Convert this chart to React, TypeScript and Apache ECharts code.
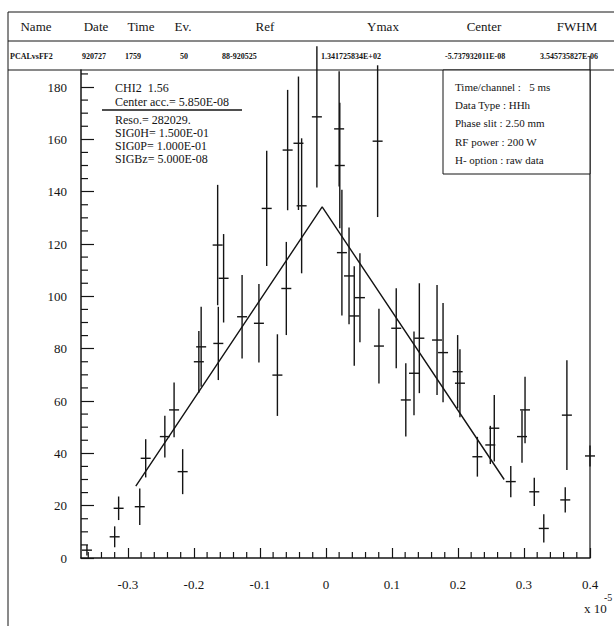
import React, { useEffect, useRef } from "react";
import * as echarts from "echarts";

// ---- data (x in units of 1e-5) ----
const xValues = [
  -0.362, -0.320, -0.314, -0.282, -0.273, -0.244, -0.230, -0.217, -0.1925, -0.189,
  -0.164, -0.163, -0.155, -0.127, -0.1015, -0.0897, -0.0735, -0.060, -0.058, -0.0416,
  -0.0368, -0.0137, 0.020, 0.021, 0.0242, 0.035, 0.0429, 0.0515, 0.0783, 0.0803,
  0.1065, 0.121, 0.1334, 0.1415, 0.1683, 0.1774, 0.1995, 0.203, 0.2294, 0.249,
  0.255, 0.280, 0.297, 0.3016, 0.3156, 0.330, 0.3625, 0.365, 0.400,
];
const yValues = [
  3, 8.1, 19, 19.6, 38.1, 46.4, 56.6, 33, 75, 80.7,
  119.6, 82, 106.9, 92.2, 89.7, 133.6, 69.9, 103, 155.9, 158.5,
  134.6, 168.6, 164, 150, 116.7, 107.8, 92.5, 99.5, 159.3, 81,
  87.8, 60.4, 70.6, 84, 83.3, 78.5, 71.2, 66.8, 38.7, 43.2,
  49.6, 29.2, 46.4, 56.6, 25.3, 11.3, 22.2, 54.6, 39,
];
const yErrors = [
  2, 4, 4.5, 7, 7.3, 8, 10.5, 8.6, 11.8, 15.3,
  23, 14, 16.9, 16, 15, 22, 15.6, 17.8, 23, 25.5,
  25.8, 27, 22, 24, 24, 18.5, 19, 17, 29, 14.3,
  15.3, 14, 16, 21, 21, 19, 14, 13, 7.6, 7.3,
  12.7, 6, 10, 12.7, 5.4, 5.4, 4.8, 21, 4,
];
const fitX = [-0.288, -0.0057, 0.270];
const fitY = [27.5, 134.17, 30.0];

const xMajorTicks = [-0.3, -0.2, -0.1, 0, 0.1, 0.2, 0.3, 0.4];
const xMinorTicks = [
  -0.36, -0.34, -0.32, -0.28, -0.26, -0.24, -0.22, -0.18, -0.16, -0.14, -0.12,
  -0.08, -0.06, -0.04, -0.02, 0.02, 0.04, 0.06, 0.08, 0.12, 0.14, 0.16, 0.18,
  0.22, 0.24, 0.26, 0.28, 0.32, 0.34, 0.36, 0.38,
];
const yMajorTicks = [0, 20, 40, 60, 80, 100, 120, 140, 160, 180];
const yMinorTicks = [
  5, 10, 15, 25, 30, 35, 45, 50, 55, 65, 70, 75, 85, 90, 95, 105, 110, 115,
  125, 130, 135, 145, 150, 155, 165, 170, 175, 185,
];

const headerLabels = ["Name", "Date", "Time", "Ev.", "Ref", "Ymax", "Center", "FWHM"];
const headerValues = ["PCALvsFF2", "920727", "1759", "50", "88-920525", "1.341725834E+02", "-5.737932011E-08", "3.545735827E-06"];
const fitInfo = ["CHI2  1.56", "Center acc.= 5.850E-08", "Reso.= 282029.", "SIG0H= 1.500E-01", "SIG0P= 1.000E-01", "SIGBz= 5.000E-08"];
const runInfo = ["Time/channel :   5 ms", "Data Type : HHh", "Phase slit : 2.50 mm", "RF power : 200 W", "H- option : raw data"];

const X_MIN = -0.371;
const X_MAX = 0.4;
const Y_MIN = 0;
const Y_MAX = 186.5;
const INK = "#141414";
const FONT = "Liberation Serif";

export default function App() {
  const ref = useRef<HTMLDivElement>(null);
  useEffect(() => {
    if (!ref.current) return;
    const chart = echarts.init(ref.current, null, { renderer: "svg" });

    const headerCenters = [36, 96, 141, 183, 265, 383, 484, 577];
    const valueStarts = [10, 82, 125, 180, 222, 321, 445, 540];
    const fitInfoY = [88, 102, 120, 133, 146, 159];
    const runInfoY = [87, 105, 123, 142, 160];

    const graphics: any[] = [];
    // header frame
    graphics.push({ type: "line", shape: { x1: 8, y1: 12, x2: 614, y2: 12 }, style: { stroke: INK, lineWidth: 1 } });
    graphics.push({ type: "line", shape: { x1: 8, y1: 41, x2: 614, y2: 41 }, style: { stroke: INK, lineWidth: 1 } });
    graphics.push({ type: "line", shape: { x1: 8, y1: 70, x2: 614, y2: 70 }, style: { stroke: INK, lineWidth: 1.2 } });
    graphics.push({ type: "line", shape: { x1: 8, y1: 12, x2: 8, y2: 626 }, style: { stroke: INK, lineWidth: 1 } });
    graphics.push({ type: "line", shape: { x1: 590, y1: 56, x2: 590, y2: 558 }, style: { stroke: INK, lineWidth: 1.2 } });
    headerLabels.forEach((t, i) => {
      graphics.push({ type: "text", x: headerCenters[i], y: 26, style: { text: t, font: `13px "${FONT}"`, fill: INK, textAlign: "center", textVerticalAlign: "middle" } });
    });
    headerValues.forEach((t, i) => {
      graphics.push({ type: "text", x: valueStarts[i], y: 56, style: { text: t, font: `bold 8px "${FONT}"`, fill: INK, textAlign: "left", textVerticalAlign: "middle" } });
    });
    // fit info box
    fitInfo.forEach((t, i) => {
      graphics.push({ type: "text", x: 115, y: fitInfoY[i], style: { text: t, font: `12px "${FONT}"`, fill: INK, textAlign: "left", textVerticalAlign: "middle" } });
    });
    graphics.push({ type: "line", shape: { x1: 102, y1: 110, x2: 242, y2: 110 }, style: { stroke: INK, lineWidth: 1.3 } });
    // run info box
    graphics.push({ type: "rect", shape: { x: 443, y: 70, width: 147, height: 104 }, style: { stroke: INK, fill: "#fff", lineWidth: 1 } });
    runInfo.forEach((t, i) => {
      graphics.push({ type: "text", x: 455, y: runInfoY[i], style: { text: t, font: `11px "${FONT}"`, fill: INK, textAlign: "left", textVerticalAlign: "middle" } });
    });
    // x10^-5
    graphics.push({ type: "text", x: 584, y: 608, style: { text: "x 10", font: `13px "${FONT}"`, fill: INK, textAlign: "left", textVerticalAlign: "middle" } });
    graphics.push({ type: "text", x: 604, y: 597, style: { text: "-5", font: `10px "${FONT}"`, fill: INK, textAlign: "left", textVerticalAlign: "middle" } });

    const errData = xValues.map((x, i) => [x, yValues[i], yErrors[i]]);
    const fitData = fitX.map((x, i) => [x, fitY[i]]);

    const option: any = {
      animation: false,
      backgroundColor: "#fff",
      graphic: graphics,
      grid: { left: 81, right: 24, top: 70, bottom: 68 },
      xAxis: {
        type: "value",
        min: X_MIN,
        max: X_MAX,
        axisLine: { show: true, onZero: false, lineStyle: { color: INK, width: 1.5 } },
        axisTick: { show: true, inside: true, length: 10, customValues: xMajorTicks, lineStyle: { color: INK, width: 1.2 } },
        axisLabel: {
          customValues: xMajorTicks,
          formatter: (v: number) => String(Math.round(v * 10) / 10),
          color: INK,
          fontFamily: FONT,
          fontSize: 13,
          margin: 20,
        },
        splitLine: { show: false },
      },
      yAxis: {
        type: "value",
        min: Y_MIN,
        max: Y_MAX,
        axisLine: { show: true, onZero: false, lineStyle: { color: INK, width: 1.5 } },
        axisTick: { show: true, inside: true, length: 13, customValues: yMajorTicks, lineStyle: { color: INK, width: 1.2 } },
        axisLabel: {
          customValues: yMajorTicks,
          color: INK,
          fontFamily: FONT,
          fontSize: 13,
          margin: 14,
        },
        splitLine: { show: false },
      },
      series: [
        {
          type: "custom",
          name: "xminor",
          silent: true,
          clip: false,
          data: xMinorTicks.map((v) => [v]),
          renderItem: (params: any, api: any) => {
            const p = api.coord([api.value(0), Y_MIN]);
            return { type: "line", shape: { x1: p[0], y1: p[1], x2: p[0], y2: p[1] - 6 }, style: { stroke: INK, lineWidth: 1.2 } };
          },
        },
        {
          type: "custom",
          name: "yminor",
          silent: true,
          clip: false,
          data: yMinorTicks.map((v) => [X_MIN, v]),
          renderItem: (params: any, api: any) => {
            const p = api.coord([X_MIN, api.value(1)]);
            return { type: "line", shape: { x1: p[0], y1: p[1], x2: p[0] + 7, y2: p[1] }, style: { stroke: INK, lineWidth: 1.2 } };
          },
        },
        {
          type: "line",
          name: "fit",
          data: fitData,
          symbol: "none",
          lineStyle: { color: INK, width: 1.4 },
          z: 3,
        },
        {
          type: "custom",
          name: "data",
          clip: false,
          data: errData,
          renderItem: (params: any, api: any) => {
            const x = api.value(0);
            const y = api.value(1);
            const e = api.value(2);
            const p = api.coord([x, y]);
            const hi = api.coord([x, y + e]);
            const lo = api.coord([x, Math.max(y - e, 0)]);
            return {
              type: "group",
              children: [
                { type: "line", shape: { x1: p[0], y1: hi[1], x2: p[0], y2: lo[1] }, style: { stroke: INK, lineWidth: 1.4 } },
                { type: "line", shape: { x1: p[0] - 5, y1: p[1], x2: p[0] + 5, y2: p[1] }, style: { stroke: INK, lineWidth: 1.4 } },
              ],
            };
          },
          z: 4,
        },
      ],
    };
    chart.setOption(option);
    return () => chart.dispose();
  }, []);
  return <div ref={ref} style={{ position: "fixed", left: 0, top: 0, width: 614, height: 626, background: "#fff" }} />;
}
